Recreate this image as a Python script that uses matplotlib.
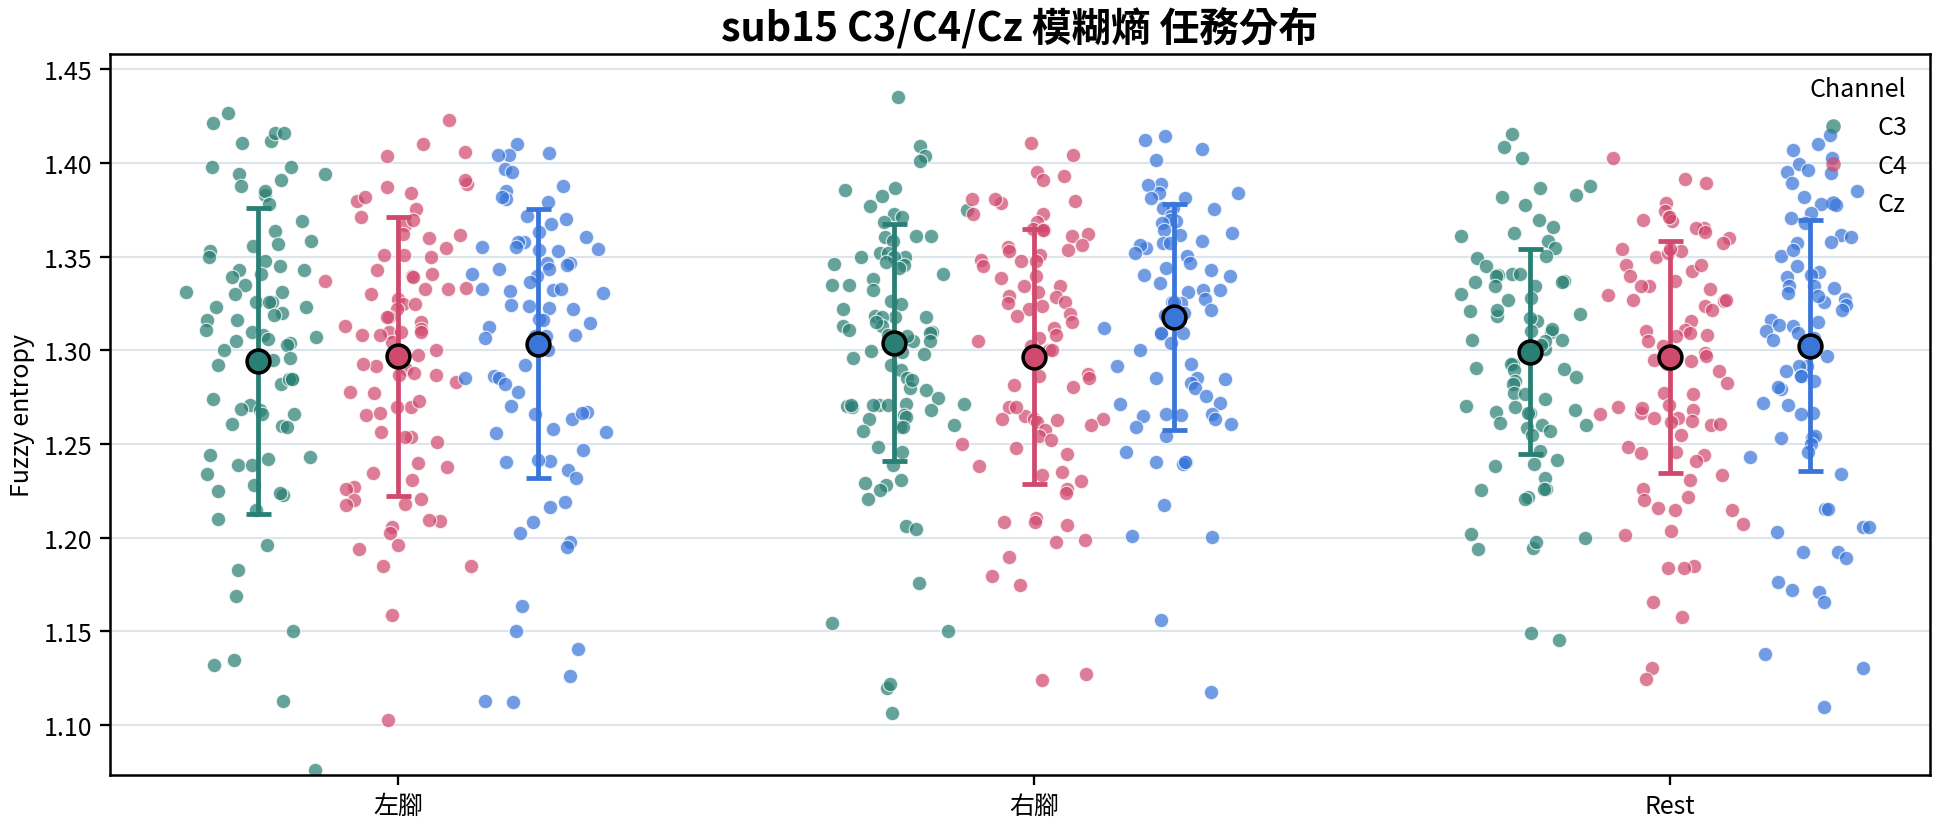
import numpy as np
import matplotlib
matplotlib.use("Agg")
import matplotlib.pyplot as plt
from matplotlib.lines import Line2D

plt.rcParams['font.family'] = ['Noto Sans CJK TC', 'DejaVu Sans']

tasks = ['左腳', '右腳', 'Rest']
channels = ['C3', 'C4', 'Cz']

# fuzzy entropy per trial
c3_left = [1.4216, 1.427, 1.412, 1.4105, 1.416, 1.416, 1.398, 1.398, 1.394, 1.394, 1.391, 1.388,
           1.383, 1.385, 1.378, 1.369, 1.364, 1.3585, 1.357, 1.356, 1.353, 1.350, 1.348, 1.345,
           1.343, 1.343, 1.341, 1.339, 1.335, 1.331, 1.331, 1.330, 1.326, 1.326, 1.326, 1.323,
           1.323, 1.320, 1.319, 1.316, 1.316, 1.311, 1.310, 1.308, 1.305, 1.307, 1.306, 1.304,
           1.303, 1.300, 1.296, 1.295, 1.292, 1.282, 1.285, 1.285, 1.285, 1.274, 1.271, 1.269,
           1.268, 1.266, 1.266, 1.2595, 1.261, 1.259, 1.243, 1.242, 1.244, 1.239, 1.239, 1.234,
           1.228, 1.225, 1.223, 1.224, 1.215, 1.210, 1.196, 1.183, 1.169, 1.150, 1.135, 1.132,
           1.113, 1.076]
c4_left = [1.423, 1.410, 1.406, 1.404, 1.389, 1.391, 1.387, 1.384, 1.380, 1.382, 1.3755, 1.371,
           1.367, 1.3695, 1.362, 1.360, 1.3615, 1.351, 1.350, 1.3545, 1.351, 1.343, 1.337, 1.3395,
           1.341, 1.339, 1.3335, 1.333, 1.333, 1.3275, 1.330, 1.325, 1.325, 1.322, 1.318, 1.318,
           1.315, 1.313, 1.310, 1.310, 1.3115, 1.310, 1.3045, 1.3085, 1.308, 1.300, 1.2975, 1.290,
           1.2915, 1.293, 1.287, 1.287, 1.288, 1.283, 1.278, 1.2775, 1.270, 1.273, 1.2655, 1.270,
           1.2665, 1.2567, 1.254, 1.254, 1.251, 1.240, 1.238, 1.2347, 1.231, 1.227, 1.226, 1.220,
           1.2205, 1.218, 1.2175, 1.209, 1.2097, 1.2057, 1.2027, 1.196, 1.194, 1.185, 1.1848,
           1.1587, 1.1028]
cz_left = [1.410, 1.4046, 1.4055, 1.4046, 1.397, 1.3955, 1.388, 1.385, 1.381, 1.379, 1.382, 1.3716,
           1.370, 1.3675, 1.363, 1.3605, 1.358, 1.358, 1.355, 1.3535, 1.353, 1.355, 1.354, 1.3466,
           1.3455, 1.3435, 1.3466, 1.3435, 1.341, 1.340, 1.3365, 1.333, 1.3325, 1.3307, 1.333,
           1.3317, 1.324, 1.322, 1.3245, 1.3225, 1.317, 1.316, 1.3147, 1.3125, 1.3085, 1.3075,
           1.3075, 1.3067, 1.300, 1.292, 1.2855, 1.2865, 1.2855, 1.282, 1.278, 1.2705, 1.267,
           1.2635, 1.266, 1.2665, 1.2564, 1.2583, 1.2558, 1.241, 1.247, 1.2405, 1.2413, 1.2363,
           1.232, 1.219, 1.2165, 1.2083, 1.2027, 1.198, 1.195, 1.1635, 1.150, 1.1406, 1.1262,
           1.1124, 1.1129]
c3_right = [1.4355, 1.409, 1.404, 1.401, 1.3855, 1.3865, 1.3826, 1.377, 1.375, 1.373, 1.371, 1.3684,
            1.361, 1.361, 1.3605, 1.3587, 1.352, 1.350, 1.352, 1.350, 1.350, 1.347, 1.346, 1.3457,
            1.344, 1.341, 1.338, 1.335, 1.335, 1.3325, 1.3266, 1.325, 1.322, 1.3186, 1.318, 1.3177,
            1.318, 1.3133, 1.3133, 1.311, 1.315, 1.310, 1.3094, 1.3085, 1.305, 1.3075, 1.305,
            1.2996, 1.299, 1.2982, 1.296, 1.292, 1.2896, 1.2855, 1.280, 1.2845, 1.2787, 1.2748,
            1.2716, 1.2716, 1.271, 1.271, 1.2655, 1.2635, 1.2702, 1.2697, 1.268, 1.271, 1.271,
            1.260, 1.2644, 1.259, 1.257, 1.2589, 1.2484, 1.2456, 1.2387, 1.228, 1.231, 1.229,
            1.2254, 1.2206, 1.2062, 1.2046, 1.1757, 1.1544, 1.1503, 1.1199, 1.122, 1.1066]
c4_right = [1.411, 1.4046, 1.3955, 1.391, 1.393, 1.380, 1.3785, 1.3806, 1.3806, 1.373, 1.3727, 1.3684,
            1.3647, 1.3643, 1.3643, 1.3613, 1.362, 1.3555, 1.3564, 1.3537, 1.353, 1.351, 1.3475,
            1.3484, 1.348, 1.3449, 1.340, 1.3387, 1.3342, 1.3345, 1.331, 1.329, 1.3236, 1.3285,
            1.326, 1.3254, 1.3195, 1.322, 1.3186, 1.315, 1.312, 1.3085, 1.3064, 1.3053, 1.300,
            1.300, 1.3023, 1.2872, 1.2862, 1.2855, 1.2805, 1.2814, 1.270, 1.265, 1.2636, 1.263,
            1.2697, 1.2635, 1.2632, 1.262, 1.2573, 1.2603, 1.2546, 1.250, 1.2523, 1.248, 1.245,
            1.2381, 1.2335, 1.235, 1.2305, 1.2262, 1.2241, 1.2108, 1.2082, 1.2082, 1.2071, 1.199,
            1.198, 1.1897, 1.1796, 1.1746, 1.1273, 1.1241]
cz_right = [1.4126, 1.4144, 1.4073, 1.4016, 1.3888, 1.3839, 1.3883, 1.3839, 1.3812, 1.3812, 1.3755,
            1.3759, 1.3759, 1.3718, 1.3691, 1.3697, 1.368, 1.3644, 1.3617, 1.3626, 1.3573, 1.3587,
            1.3573, 1.3546, 1.3564, 1.3502, 1.352, 1.3466, 1.344, 1.3395, 1.3404, 1.3431, 1.3324,
            1.3324, 1.336, 1.331, 1.3254, 1.326, 1.3275, 1.3257, 1.320, 1.3218, 1.3191, 1.3191,
            1.3094, 1.3089, 1.312, 1.3094, 1.3041, 1.3005, 1.2917, 1.293, 1.2855, 1.2855, 1.2828,
            1.2846, 1.2801, 1.2757, 1.2722, 1.266, 1.266, 1.2636, 1.2714, 1.2652, 1.2656, 1.2608,
            1.2546, 1.259, 1.2457, 1.2404, 1.2395, 1.2404, 1.2404, 1.2177, 1.2002, 1.2012, 1.156,
            1.1177]
c3_rest = [1.4158, 1.4085, 1.4028, 1.3879, 1.3868, 1.3829, 1.3817, 1.3777, 1.3661, 1.3697, 1.3626,
           1.3613, 1.3585, 1.3546, 1.3502, 1.3493, 1.3449, 1.341, 1.3404, 1.3372, 1.3395, 1.341,
           1.3342, 1.3363, 1.3363, 1.3342, 1.3271, 1.328, 1.330, 1.3195, 1.3183, 1.3209, 1.3218,
           1.3156, 1.3174, 1.3098, 1.3112, 1.3103, 1.3058, 1.3058, 1.3009, 1.3049, 1.303, 1.2973,
           1.2929, 1.2929, 1.2908, 1.2895, 1.2902, 1.2858, 1.2837, 1.2823, 1.2775, 1.2766, 1.2668,
           1.2739, 1.268, 1.2704, 1.267, 1.270, 1.2665, 1.2603, 1.2603, 1.2615, 1.2569, 1.2587,
           1.255, 1.2466, 1.2413, 1.2392, 1.2383, 1.2321, 1.2262, 1.2257, 1.2262, 1.2218, 1.2206,
           1.1943, 1.1998, 1.1938, 1.198, 1.2023, 1.1491, 1.1456]
c4_rest = [1.4025, 1.3896, 1.3913, 1.3785, 1.3746, 1.3715, 1.3691, 1.3715, 1.3652, 1.3652, 1.3697,
           1.3634, 1.3599, 1.3576, 1.353, 1.3541, 1.3498, 1.352, 1.3541, 1.3454, 1.3422, 1.3457,
           1.3399, 1.3342, 1.3345, 1.337, 1.3328, 1.3298, 1.3262, 1.3236, 1.3271, 1.3271, 1.3218,
           1.3156, 1.3108, 1.3106, 1.3094, 1.3049, 1.3076, 1.3085, 1.3023, 1.2949, 1.2943, 1.2988,
           1.297, 1.2926, 1.289, 1.2828, 1.2775, 1.2766, 1.2699, 1.2707, 1.2668, 1.2642, 1.2642,
           1.2661, 1.2684, 1.2693, 1.260, 1.2605, 1.2621, 1.2619, 1.255, 1.2484, 1.2457, 1.244,
           1.2408, 1.2454, 1.2333, 1.231, 1.2262, 1.2218, 1.2204, 1.2161, 1.215, 1.2147, 1.2073,
           1.2014, 1.2035, 1.1837, 1.1849, 1.1837, 1.1656, 1.1576, 1.1305, 1.1246]
cz_rest = [1.4149, 1.4104, 1.4069, 1.4028, 1.3998, 1.3954, 1.3963, 1.3945, 1.3895, 1.3853, 1.3821,
           1.3782, 1.3777, 1.3732, 1.3706, 1.3679, 1.3617, 1.3608, 1.3578, 1.3573, 1.3502, 1.3537,
           1.3449, 1.3418, 1.3402, 1.339, 1.3333, 1.3342, 1.3345, 1.3307, 1.3275, 1.326, 1.329,
           1.3241, 1.3214, 1.3165, 1.3153, 1.3138, 1.313, 1.3094, 1.3103, 1.3058, 1.3067, 1.3009,
           1.297, 1.2917, 1.2917, 1.2863, 1.2863, 1.2893, 1.2837, 1.2796, 1.2807, 1.2722, 1.2668,
           1.2711, 1.2661, 1.2532, 1.2534, 1.2543, 1.2502, 1.2457, 1.2431, 1.2342, 1.2152, 1.2155,
           1.2058, 1.2032, 1.206, 1.1922, 1.1926, 1.189, 1.1762, 1.1711, 1.1722, 1.1656, 1.1378,
           1.1305, 1.1098]

# mean and SD per task (rows) x channel (cols)
mean_vals = [[1.2944, 1.2968, 1.3037],
             [1.3041, 1.2966, 1.3179],
             [1.2994, 1.2964, 1.3026]]
sd_vals = [[0.0815, 0.0743, 0.0716],
           [0.0633, 0.0681, 0.0603],
           [0.0549, 0.0618, 0.0671]]

points = [[c3_left, c4_left, cz_left],
          [c3_right, c4_right, cz_right],
          [c3_rest, c4_rest, cz_rest]]

colors = {'C3': '#2a7f74', 'C4': '#d04a6e', 'Cz': '#3a76da'}
offsets = [-0.22, 0.0, 0.22]

fig = plt.figure(figsize=(12.96, 5.513), dpi=150)
ax = fig.add_axes([0.0566, 0.0617, 0.9362, 0.8724])

# strip jitter, a bit denser near the centre like the original
rng = np.random.default_rng(15)
for i, task in enumerate(tasks):
    for j, ch in enumerate(channels):
        y = np.array(points[i][j])
        jit = np.clip(rng.normal(0, 0.05, len(y)), -0.115, 0.115)
        ax.scatter(i + offsets[j] + jit, y, s=48, color=colors[ch], alpha=0.72,
                   edgecolor='white', linewidth=0.6, zorder=2)

for i, task in enumerate(tasks):
    for j, ch in enumerate(channels):
        ax.errorbar(i + offsets[j], mean_vals[i][j], yerr=sd_vals[i][j], fmt='none',
                    ecolor=colors[ch], elinewidth=2.3, capsize=6, capthick=2.3, zorder=3)
        ax.scatter(i + offsets[j], mean_vals[i][j], s=120, color=colors[ch],
                   edgecolor='black', linewidth=1.7, zorder=4)

ax.set_xlim(-0.453, 2.409)
ax.set_ylim(1.0734, 1.4585)
ax.set_xticks(range(len(tasks)))
ax.set_xticklabels(tasks)
ax.set_yticks([1.10, 1.15, 1.20, 1.25, 1.30, 1.35, 1.40, 1.45])
ax.tick_params(labelsize=12, length=5, width=1.1)
ax.yaxis.grid(True, color='#dde5ec', linewidth=1)
ax.set_axisbelow(True)
for sp in ax.spines.values():
    sp.set_linewidth(1.2)

ax.set_ylabel('Fuzzy entropy', fontsize=12)
ax.set_xlabel('')
ax.set_title('sub15 C3/C4/Cz 模糊熵 任務分布', fontsize=19, fontweight='bold', pad=6)

handles = [Line2D([], [], linestyle='none', marker='o', markersize=7, color=colors[ch],
                  alpha=0.72, markeredgewidth=0) for ch in channels]
ax.legend(handles, channels, title='Channel', loc='upper right', frameon=False,
          fontsize=12, title_fontsize=12)

fig.savefig('out.png', dpi=150)
